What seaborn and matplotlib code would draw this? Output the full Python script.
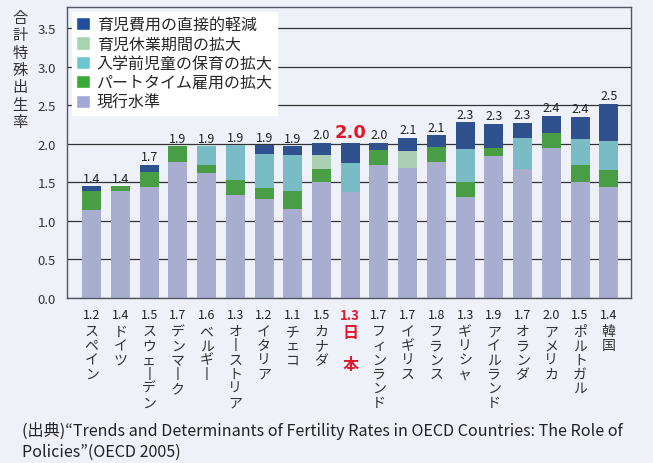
import matplotlib
matplotlib.use("Agg")
import matplotlib.pyplot as plt
import seaborn as sns
import pandas as pd
import numpy as np
from matplotlib.patches import Patch

countries = ["スペイン", "ドイツ", "スウェーデン", "デンマーク", "ベルギー", "オーストリア",
             "イタリア", "チェコ", "カナダ", "日本", "フィンランド", "イギリス", "フランス",
             "ギリシャ", "アイルランド", "オランダ", "アメリカ", "ポルトガル", "韓国"]

# segments (bottom -> top)
base      = [1.14, 1.39, 1.435, 1.77, 1.62, 1.34, 1.28, 1.15, 1.51, 1.375, 1.73, 1.69, 1.77, 1.31, 1.84, 1.67, 1.95, 1.50, 1.44]
parttime  = [0.25, 0.06, 0.20, 0.20, 0.11, 0.19, 0.15, 0.24, 0.16, 0.00, 0.19, 0.00, 0.19, 0.19, 0.11, 0.00, 0.19, 0.22, 0.22]
preschool = [0.00, 0.00, 0.00, 0.00, 0.24, 0.45, 0.44, 0.47, 0.00, 0.37, 0.00, 0.00, 0.00, 0.43, 0.00, 0.40, 0.00, 0.34, 0.37]
leave     = [0.00, 0.00, 0.00, 0.00, 0.00, 0.00, 0.00, 0.00, 0.19, 0.00, 0.00, 0.22, 0.00, 0.00, 0.00, 0.00, 0.00, 0.00, 0.00]
cost      = [0.06, 0.00, 0.09, 0.00, 0.00, 0.00, 0.11, 0.11, 0.15, 0.27, 0.095, 0.17, 0.15, 0.35, 0.31, 0.20, 0.22, 0.29, 0.49]

base_labels  = ["1.2", "1.4", "1.5", "1.7", "1.6", "1.3", "1.2", "1.1", "1.5", "1.3", "1.7", "1.7", "1.8", "1.3", "1.9", "1.7", "2.0", "1.5", "1.4"]
total_labels = ["1.4", "1.4", "1.7", "1.9", "1.9", "1.9", "1.9", "1.9", "2.0", "2.0", "2.0", "2.1", "2.1", "2.3", "2.3", "2.3", "2.4", "2.4", "2.5"]

series_names = ["現行水準", "パートタイム雇用の拡大", "入学前児童の保育の拡大", "育児休業期間の拡大", "育児費用の直接的軽減"]
series_vals = [base, parttime, preschool, leave, cost]
colors = ["#a3a9d6", "#3aab37", "#6cc6d2", "#a6d4ae", "#1f4e9f"]

bg = "#eef1f8"
sns.set_style("white")
plt.rcParams["font.family"] = ["Noto Sans CJK JP", "DejaVu Sans"]

fig = plt.figure(figsize=(6.53, 4.64), dpi=100, facecolor=bg)
ax = fig.add_axes([0.1026, 0.3556, 0.8644, 0.6265])
ax.set_facecolor(bg)

df = pd.DataFrame({"country": countries})
bottom = np.zeros(len(countries))
for name, vals, c in zip(series_names, series_vals, colors):
    df["v"] = vals
    sns.barplot(data=df, x="country", y="v", color=c, width=0.66, bottom=bottom,
                ax=ax, zorder=2, linewidth=0, order=countries)
    bottom = bottom + np.array(vals)

ax.set_xlim(-0.86, len(countries) - 1 + 0.79)
ax.set_ylim(0, 3.77)
ticks = np.arange(0, 3.51, 0.5)
ax.set_yticks(ticks)
ax.set_yticklabels([f"{t:.1f}" for t in ticks], fontsize=9.5, color="#333333")
ax.grid(axis="y", color="#333333", linewidth=0.9, zorder=0)
ax.set_axisbelow(True)
ax.tick_params(axis="y", length=6, width=0.9, color="#333333", pad=2)
ax.tick_params(axis="x", length=0)
ax.set_xticks([])
ax.set_xlabel("")
ax.set_ylabel("")
for s in ax.spines.values():
    s.set_color("#555566")
    s.set_linewidth(1.0)

# totals above bars
for i, (tot, lab) in enumerate(zip(bottom, total_labels)):
    if countries[i] == "日本":
        ax.text(i, tot + 0.02, lab, ha="center", va="bottom", fontsize=13,
                color="#e0182c", fontweight="bold", family="DejaVu Sans")
    else:
        ax.text(i, tot + 0.02, lab, ha="center", va="bottom", fontsize=9, color="#222222")

# base values and vertical country names under the axis
trans = ax.get_xaxis_transform()
for i, (c, b) in enumerate(zip(countries, base_labels)):
    if c == "日本":
        ax.text(i, -0.035, b, transform=trans, ha="center", va="top", fontsize=9.5,
                color="#e0182c", fontweight="bold")
        ax.text(i, -0.09, "日\n\n本", transform=trans, ha="center", va="top", fontsize=11.5,
                color="#e0182c", fontweight="bold", linespacing=1.0)
    else:
        ax.text(i, -0.035, b, transform=trans, ha="center", va="top", fontsize=9, color="#222222")
        vert = "\n".join(ch if ch != "ー" else "丨" for ch in c)
        ax.text(i, -0.09, vert, transform=trans, ha="center", va="top", fontsize=10,
                color="#333333", linespacing=1.02)

# y label, characters stacked
fig.text(0.031, 0.978, "\n".join("合計特殊出生率"), ha="center", va="top", fontsize=11,
         color="#333333", linespacing=1.02)

handles = [Patch(facecolor=c, label=n) for n, c in zip(series_names, colors)][::-1]
leg = ax.legend(handles=handles, loc="upper left", bbox_to_anchor=(0.0, 1.0), fontsize=11.5,
                frameon=True, fancybox=False, framealpha=1, edgecolor="white",
                handlelength=0.9, handleheight=0.9, handletextpad=0.4, labelspacing=0.15,
                borderpad=0.25, borderaxespad=0.3)
leg.get_frame().set_facecolor("white")
leg.set_zorder(5)

fig.text(0.034, 0.072,
         "(出典)“Trends and Determinants of Fertility Rates in OECD Countries: The Role of",
         ha="left", va="center", fontsize=11.6, color="#222222")
fig.text(0.034, 0.026, "Policies”(OECD 2005)", ha="left", va="center", fontsize=11.6, color="#222222")

fig.savefig("out.png", dpi=100, facecolor=bg)
